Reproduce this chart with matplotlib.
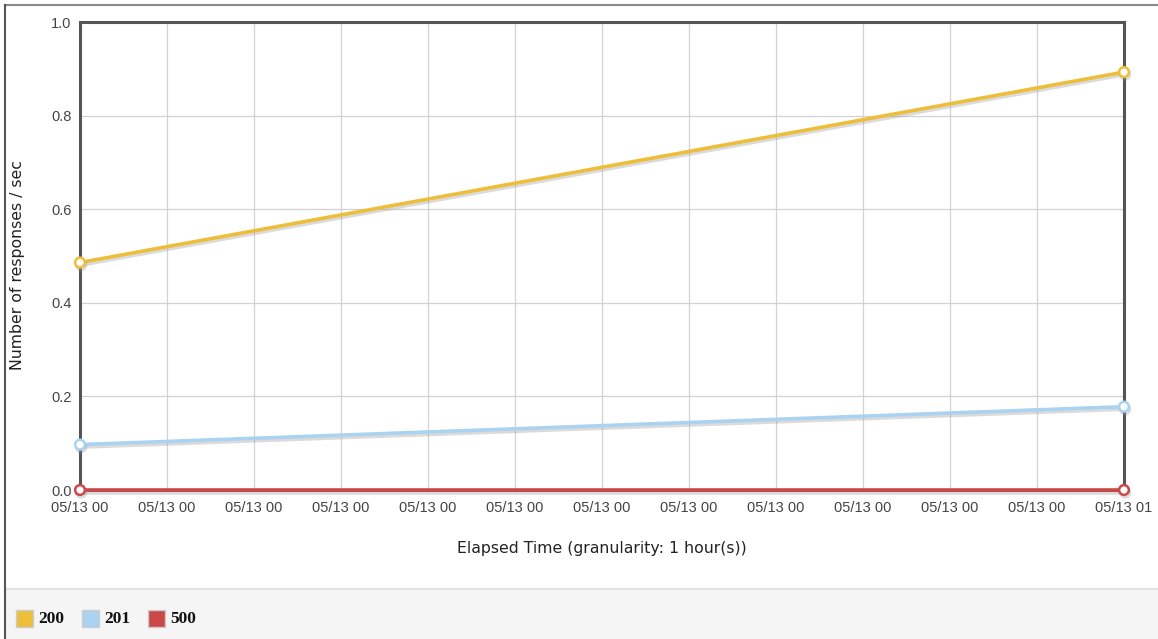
import matplotlib
matplotlib.use("Agg")
import matplotlib.pyplot as plt
import matplotlib.patheffects as pe
from matplotlib.patches import Rectangle
from matplotlib.lines import Line2D

# Elapsed minutes for the two samples
minutes = [0, 60]
series_names = ["200", "201", "500"]
resp_200 = [0.486, 0.893]
resp_201 = [0.097, 0.178]
resp_500 = [0.0, 0.0]
series_colors = ["#EDBE3A", "#AAD3F1", "#CC4747"]

tick_minutes = list(range(0, 61, 5))
tick_labels = ["05/13 00"] * 12 + ["05/13 01"]
y_ticks = [0.0, 0.2, 0.4, 0.6, 0.8, 1.0]

W, H = 1158, 639
fig = plt.figure(figsize=(W / 100, H / 100), dpi=100)
fig.patch.set_facecolor("white")

# Legend band at the bottom
fig.add_artist(Rectangle((5 / W, 0), 1 - 5 / W, 50 / H, transform=fig.transFigure,
                         facecolor="#F4F5F4", edgecolor="none", zorder=0))
fig.add_artist(Line2D([5 / W, 1], [1 - 589 / H, 1 - 589 / H], transform=fig.transFigure,
                      color="#DDDDDB", lw=1.2))
# Outer border (top and left)
fig.add_artist(Line2D([5 / W, 1], [1 - 5 / H, 1 - 5 / H], transform=fig.transFigure,
                      color="#888888", lw=1.5))
fig.add_artist(Line2D([5 / W, 5 / W], [0, 1 - 5 / H], transform=fig.transFigure,
                      color="#555555", lw=1.5))

left, right, top, bottom = 80, 1124, 22, 490
ax = fig.add_axes([left / W, 1 - bottom / H, (right - left) / W, (bottom - top) / H])

shadow = [pe.SimpleLineShadow(offset=(0.8, -1.8), shadow_color="#999999", alpha=0.35),
          pe.Normal()]
for name, vals, col in zip(series_names, [resp_200, resp_201, resp_500], series_colors):
    ax.plot(minutes, vals, color=col, lw=2.6, solid_capstyle="butt",
            marker="o", markersize=7, markerfacecolor="white",
            markeredgecolor=col, markeredgewidth=1.8,
            path_effects=shadow, clip_on=False, zorder=5, label=name)

ax.set_xlim(0, 60)
ax.set_ylim(0, 1.0)
ax.set_xticks(tick_minutes)
ax.set_xticklabels(tick_labels)
ax.set_yticks(y_ticks)
ax.set_yticklabels([f"{v:.1f}" for v in y_ticks])
ax.grid(True, color="#D2D2D2", lw=0.9)
ax.set_axisbelow(True)
ax.tick_params(length=0, pad=6, labelsize=10.5, labelcolor="#444444")
for lab in ax.get_xticklabels() + ax.get_yticklabels():
    lab.set_fontfamily("Liberation Sans")
ax.tick_params(axis="x", pad=8)
for side in ["left", "right", "top", "bottom"]:
    ax.spines[side].set_color("#555555")
    ax.spines[side].set_linewidth(2.2)

# Axis titles
fig.text(602 / W, 1 - 549 / H, "Elapsed Time (granularity: 1 hour(s))",
         fontsize=11.3, color="#222222", ha="center", va="center",
         fontfamily="DejaVu Sans")
fig.text(18 / W, 1 - 265 / H, "Number of responses / sec", rotation=90,
         fontsize=11.3, color="#222222", ha="center", va="center",
         fontfamily="DejaVu Sans")

# Legend swatches and labels
x0 = 16
for name, col in zip(series_names, series_colors):
    fig.add_artist(Rectangle((x0 / W, 1 - 627 / H), 17 / W, 17 / H,
                             transform=fig.transFigure, facecolor=col,
                             edgecolor="#CCCCCC", lw=1.0))
    fig.text((x0 + 22) / W, 1 - 619 / H, name, fontsize=12.5, fontweight="bold",
             fontfamily="Liberation Serif", va="center", ha="left", color="#111111")
    x0 += 66

fig.savefig("out.png", dpi=100, facecolor=fig.get_facecolor())
